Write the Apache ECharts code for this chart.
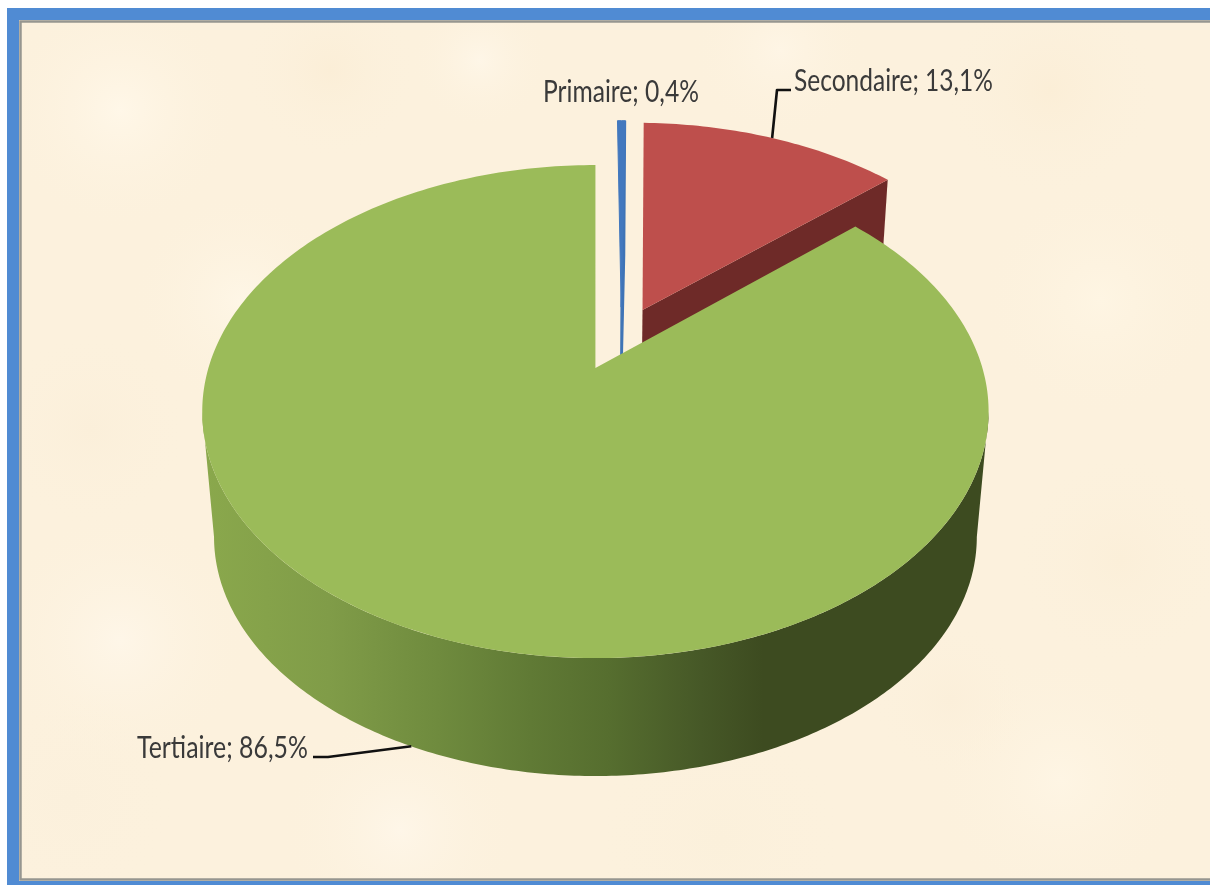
<!DOCTYPE html>
<html>
<head>
<meta charset="utf-8">
<style>html,body{margin:0;padding:0;background:#fff;}#c{width:1210px;height:885px;}</style>
<script src="https://cdn.jsdelivr.net/npm/echarts@6/dist/echarts.min.js"></script>
</head>
<body>
<div id="c"></div>
<script>
// Data
var categories = ['Primaire', 'Secondaire', 'Tertiaire'];
var shares = [0.4, 13.1, 86.5];

// Style and layout
var topColors = ['#4278BE', '#BE4F4C', '#9BBB59'];
var faceColors = ['#3F74B6', '#6E2A28', '#5D7733'];
var labelBoxes = [{x: 543, y: 92, w: 156}, {x: 794, y: 81, w: 199}, {x: 137, y: 748, w: 171}];
var sliceNudgeX = [4, 4, 0];
var labelFont = '30px Lato, "Liberation Sans", sans-serif';

var cx = 595.5, cy = 368, R = 387, S = 238.8, k = 0.1765;
var depthScale = 0.97, nadirY = 4590;
var explode = 0.14, pieC = [0.0574, -0.1274];
var STEP = Math.PI / 180;

var measure = document.createElement('canvas').getContext('2d');
measure.font = labelFont;

function top3(u, v) { var w = 1 - k * v; return [cx + R * u / w, cy + S * v / w]; }
function drop(p) { return [cx + depthScale * (p[0] - cx), nadirY + depthScale * (p[1] - nadirY)]; }

var total = shares.reduce(function (a, b) { return a + b; }, 0);
var starts = []; (function () { var c = 0; shares.forEach(function (s) { starts.push(c / total * 2 * Math.PI); c += s; }); })();

function renderItem(params, api) {
  var i = params.dataIndex;
  var a0 = starts[i];
  var a1 = a0 + api.value(1) / total * 2 * Math.PI;
  var mid = (a0 + a1) / 2;
  var du = pieC[0] + explode * Math.sin(mid) + sliceNudgeX[i] / R;
  var dv = pieC[1] - explode * Math.cos(mid);
  function pt(a) { return top3(du + Math.sin(a), dv - Math.cos(a)); }
  var apex = top3(du, dv);
  var arc = [], a;
  var n = Math.max(2, Math.ceil((a1 - a0) / STEP));
  for (var j = 0; j <= n; j++) { a = a0 + (a1 - a0) * j / n; arc.push(pt(a)); }
  var children = [];
  var edge = i === 0 ? {stroke: topColors[0], lineWidth: 1} : {};

  if (i < 2) {
    var corner = pt(a1);
    children.push({type: 'polygon', shape: {points: [apex, corner, drop(corner), drop(apex)]},
      style: Object.assign({fill: faceColors[i]}, i === 0 ? {stroke: faceColors[0], lineWidth: 1.5} : {})});
  } else {
    // outer cylinder wall between the two silhouette tangents
    var wa0 = Math.max(a0, 100.2 * STEP), wa1 = Math.min(a1, 259.8 * STEP), wn = 240;
    var upper = [], lower = [];
    for (var m = 0; m <= wn; m++) {
      a = wa0 + (wa1 - wa0) * m / wn;
      var p = pt(a); upper.push(p); lower.unshift(drop(p));
    }
    children.push({type: 'polygon', shape: {points: upper.concat(lower)},
      style: {fill: {type: 'linear', global: true, x: 205, y: 0, x2: 980, y2: 0, colorStops: [
        {offset: 0, color: '#8AA84C'}, {offset: 0.16, color: '#809C48'}, {offset: 0.3, color: '#6F8B3E'},
        {offset: 0.42, color: '#607A35'}, {offset: 0.52, color: '#566E2F'}, {offset: 0.64, color: '#465827'},
        {offset: 0.72, color: '#3D4B20'}, {offset: 1, color: '#3D4B20'}]}}});
  }
  children.push({type: 'polygon', shape: {points: [apex].concat(arc)},
    style: Object.assign({fill: topColors[i]}, edge)});

  var anchor = pt(mid);
  if (i === 1) {
    children.push({type: 'polyline', shape: {points: [anchor, [777, 90], [791, 90]]},
      style: {stroke: '#111', lineWidth: 2.6, fill: null, lineJoin: 'round'}});
  }
  if (i === 2) {
    children.push({type: 'polyline', shape: {points: [drop(anchor), [328, 757], [313, 757]]},
      style: {stroke: '#111', lineWidth: 2.6, fill: null, lineJoin: 'round'}});
  }
  var box = labelBoxes[i];
  var text = categories[i] + '; ' + api.value(1).toFixed(1).replace('.', ',') + '%';
  children.push({type: 'text', x: box.x, y: box.y, scaleX: box.w / measure.measureText(text).width, style: {
    text: text, x: 0, y: 0, textAlign: 'left', textVerticalAlign: 'middle',
    font: labelFont, fill: '#3A3A3A'}});
  return {type: 'group', children: children};
}

// Soft parchment mottling
var blotches = [[120,110,120,'#FFF7E8'],[330,70,90,'#FBEED7'],[240,300,110,'#FEF6E6'],[90,430,100,'#FBEFDA'],[120,640,130,'#FEF6E8'],
  [70,800,110,'#FBF0DC'],[400,830,120,'#FEF6E8'],[720,840,130,'#FBF0DB'],[1060,780,130,'#FEF5E4'],[1120,560,110,'#FBEFD9'],
  [1100,300,120,'#FEF5E3'],[1050,90,110,'#FBEED7'],[780,50,90,'#FEF5E5'],[480,60,70,'#FEF6E7'],[950,700,80,'#FBEFDA']];
var bg = [{type: 'rect', z: 0, shape: {x: 19, y: 20, width: 1191, height: 861}, style: {fill: '#FCF1DD'}}];
blotches.forEach(function (b) {
  bg.push({type: 'circle', z: 1, shape: {cx: b[0], cy: b[1], r: b[2]}, style: {fill: {type: 'radial', x: 0.5, y: 0.5, r: 0.5,
    colorStops: [{offset: 0, color: b[3]}, {offset: 1, color: 'rgba(252,241,221,0)'}]}}});
});
// inner grey line, blue frame and white page strip above
bg.push(
  {type: 'rect', z: 2, shape: {x: 20.5, y: 21.5, width: 1192, height: 858}, style: {fill: null, stroke: '#969690', lineWidth: 2.5}},
  {type: 'rect', z: 3, shape: {x: 7, y: 8, width: 1203, height: 12}, style: {fill: '#508BD3'}},
  {type: 'rect', z: 3, shape: {x: 7, y: 8, width: 12, height: 877}, style: {fill: '#508BD3'}},
  {type: 'rect', z: 3, shape: {x: 7, y: 881, width: 1203, height: 4}, style: {fill: '#508BD3'}},
  {type: 'rect', z: 3, shape: {x: 0, y: 0, width: 7, height: 885}, style: {fill: '#fff'}},
  {type: 'rect', z: 3, shape: {x: 0, y: 0, width: 1210, height: 8}, style: {fill: '#fff'}}
);

var chart = echarts.init(document.getElementById('c'), null, {renderer: 'canvas'});
chart.setOption({
  animation: false,
  backgroundColor: '#fff',
  graphic: {elements: bg},
  series: [{
    type: 'custom', coordinateSystem: 'none', z: 10, silent: true,
    renderItem: renderItem,
    data: categories.map(function (c, i) { return [i, shares[i]]; }),
    encode: {itemName: 0, value: 1}
  }]
});
</script>
</body>
</html>
